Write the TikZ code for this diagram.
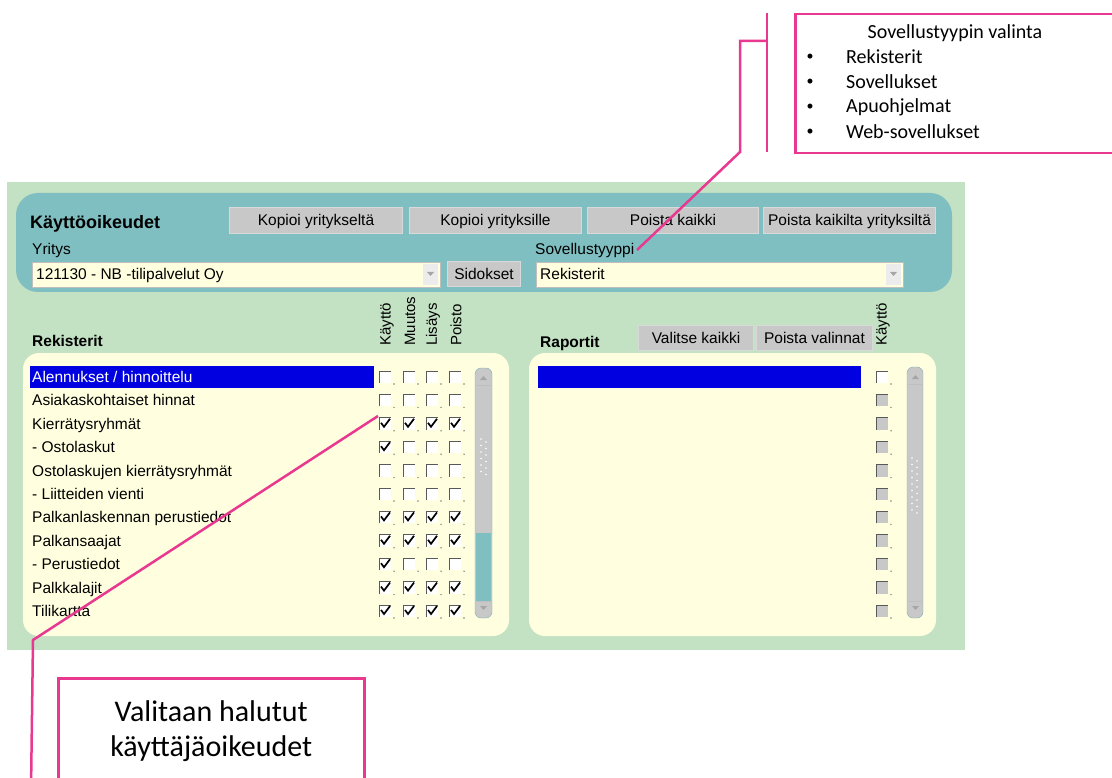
\documentclass[tikz,border=0pt]{standalone}
\usepackage{fontspec}
\setmainfont{Liberation Sans}
\newfontfamily\callfont{Carlito}
\usepackage{tikz}
\usetikzlibrary{positioning}

\definecolor{bggreen}{RGB}{195,225,195}
\definecolor{hdrteal}{RGB}{127,191,193}
\definecolor{listyellow}{RGB}{255,255,224}
\definecolor{selblue}{RGB}{0,0,225}
\definecolor{btngray}{RGB}{200,200,200}
\definecolor{callpink}{RGB}{232,56,143}

% checkbox: x, y, checked (1/0), fill colour
\newcommand{\chkbox}[4]{%
  \fill[#4] (#1-6,#2-6) rectangle (#1+6,#2+6);
  \draw[gray!70!black, line width=1pt] (#1-6,#2+6) -- (#1-6,#2-6) -- (#1+6,#2-6);
  \ifnum#3=1 \draw[black, line width=1.7pt] (#1-4,#2-1) -- (#1-1,#2+3) -- (#1+5,#2-5);\fi
  \fill[gray] (#1+9,#2+7) circle (0.8);
}

\begin{document}
\begin{tikzpicture}[x=1pt, y=-1pt,
guitext/.style={font=\fontsize{15.5}{18}\selectfont, inner sep=0pt, anchor=west, text height=11pt, text depth=0pt},
guibold/.style={font=\fontsize{15.5}{18}\selectfont\bfseries, inner sep=0pt, anchor=west, text height=11pt, text depth=0pt},
button/.style={draw=white!70!gray, fill=btngray, line width=1pt, minimum height=26pt, inner sep=0pt,
  text height=11pt, text depth=0pt, font=\fontsize{15.5}{18}\selectfont},
colhead/.style={rotate=90, anchor=west, inner sep=0pt, font=\fontsize{15}{17}\selectfont},
calltext/.style={font=\callfont\fontsize{20}{24}\selectfont, inner sep=0pt},
callbox/.style={draw=callpink, line width=2.5pt, fill=white},
callline/.style={draw=callpink, line width=2.5pt}
]
    \clip (0,0) rectangle (1112,778);
    \fill[white] (0,0) rectangle (1112,778);

    %Panels
    \fill[bggreen] (7,182) rectangle (965,650);
    \fill[hdrteal, rounded corners=22pt] (16,193) rectangle (952,292);
    \fill[listyellow, rounded corners=16pt] (23,353) rectangle (509,636);
    \fill[listyellow, rounded corners=16pt] (529,353) rectangle (936,636);

    %Header
    \node[guibold, font=\fontsize{18}{20}\selectfont\bfseries, text height=13pt]
        (title)     at (30,222)     {Käyttöoikeudet};
    \node[button, minimum width=173pt, anchor=north west]
        (copyFrom)  at (229,207)    {Kopioi yritykseltä};
    \node[button, minimum width=172pt]
        (copyTo)    [right=6pt of copyFrom] {Kopioi yrityksille};
    \node[button, minimum width=171pt]
        (delAll)    [right=5pt of copyTo]   {Poista kaikki};
    \node[button, minimum width=172pt]
        (delComp)   [right=4pt of delAll]   {Poista kaikilta yrityksiltä};

    \node[guitext]  (compLbl)   at (32,249)     {Yritys};
    \node[guitext]  (appLbl)    at (535,249)    {Sovellustyyppi};

    \draw[gray!50, fill=listyellow] (32,262) rectangle (440,287);
    \fill[gray!15] (423,264) rectangle (438,285);
    \fill[gray!70] (427,272) -- (434,272) -- (430.5,276) -- cycle;
    \node[guitext]  (compVal)   at (36,274.5)   {121130 - NB -tilipalvelut Oy};
    \node[button, minimum width=73pt, minimum height=25pt, anchor=north west]
        (links)     at (447,261)    {Sidokset};

    \draw[gray!50, fill=listyellow] (536,262) rectangle (903,287);
    \fill[gray!15] (886,264) rectangle (901,285);
    \fill[gray!70] (890,272) -- (897,272) -- (893.5,276) -- cycle;
    \node[guitext]  (appVal)    at (540,274.5)  {Rekisterit};

    %Column titles
    \node[guibold]  (regLbl)    at (32,341)     {Rekisterit};
    \foreach \x/\txt [count=\k] in {387/Käyttö, 410/Muutos, 433/Lisäys, 456/Poisto}
        \node[colhead] (col\k) at (\x,346) {\txt};
    \node[guibold]  (repLbl)    at (540,342)    {Raportit};
    \node[button, minimum width=115pt, minimum height=25pt, anchor=north west]
        (selAll)    at (638,325)    {Valitse kaikki};
    \node[button, minimum width=116pt, minimum height=25pt]
        (clrSel)    [right=2pt of selAll]   {Poista valinnat};
    \node[colhead]  (repCol)    at (883,346)    {Käyttö};

    %Lists
    \fill[selblue] (30,366) rectangle (374,388);
    \fill[selblue] (538,366) rectangle (861,388);
    \foreach \i/\txt/\a/\b/\c/\d/\tc/\rf in {
        1/{Alennukset / hinnoittelu}/0/0/0/0/white/white,
        2/Asiakaskohtaiset hinnat/0/0/0/0/black/btngray,
        3/Kierrätysryhmät/1/1/1/1/black/btngray,
        4/- Ostolaskut/1/0/0/0/black/btngray,
        5/Ostolaskujen kierrätysryhmät/0/0/0/0/black/btngray,
        6/- Liitteiden vienti/0/0/0/0/black/btngray,
        7/Palkanlaskennan perustiedot/1/1/1/1/black/btngray,
        8/Palkansaajat/1/1/1/1/black/btngray,
        9/- Perustiedot/1/0/0/0/black/btngray,
        10/Palkkalajit/1/1/1/1/black/btngray,
        11/Tilikartta/1/1/1/1/black/btngray}
    {
        \pgfmathsetmacro\yy{377+23.4*(\i-1)}
        \node[guitext, text=\tc] (row\i) at (32,\yy) {\txt};
        \chkbox{385}{\yy}{\a}{white}
        \chkbox{409}{\yy}{\b}{white}
        \chkbox{432}{\yy}{\c}{white}
        \chkbox{455}{\yy}{\d}{white}
        \chkbox{882}{\yy}{0}{\rf}
    }

    %Scrollbars
    \draw[hdrteal!80!gray, fill=btngray, rounded corners=6pt] (475,368) rectangle (492,618);
    \fill[hdrteal] (476,533) rectangle (491,601);
    \draw[gray!50] (476,385) -- (491,385) (476,601) -- (491,601);
    \fill[gray!70] (480,380) -- (487,380) -- (483.5,376) -- cycle;
    \fill[gray!70] (480,606) -- (487,606) -- (483.5,610) -- cycle;
    \foreach \k in {0,...,5} {
        \fill[white] (481,439+6.5*\k) circle (0.9);
        \fill[white] (486,442+6.5*\k) circle (0.9);
    }
    \draw[hdrteal!80!gray, fill=btngray, rounded corners=6pt] (907,367) rectangle (923,618);
    \draw[gray!50] (908,384) -- (922,384) (908,601) -- (922,601);
    \fill[gray!70] (912,379) -- (919,379) -- (915.5,375) -- cycle;
    \fill[gray!70] (912,606) -- (919,606) -- (915.5,610) -- cycle;
    \foreach \k in {0,...,8} {
        \fill[white] (912,458+6.5*\k) circle (0.9);
        \fill[white] (917,461+6.5*\k) circle (0.9);
    }

    %Callouts
    \node[callbox, anchor=north west, minimum width=340pt, minimum height=139pt]
        (appBox)    at (794,13)     {};
    \node[calltext] (appTitle)  at (955,33)     {Sovellustyypin valinta};
    \foreach \txt [count=\k] in {Rekisterit, Sovellukset, Apuohjelmat, Web-sovellukset} {
        \node[calltext, font=\callfont\fontsize{14}{16}\selectfont] (bul\k) at (810,32+25*\k) {\textbullet};
        \node[calltext, anchor=west] (item\k) at (846,32+25*\k) {\txt};
    }
    \node[callbox, anchor=north west, minimum width=306pt, minimum height=106pt,
          align=center, font=\callfont\fontsize{30}{35}\selectfont]
        (rightsBox) at (57,677)     {Valitaan halutut\\käyttäjäoikeudet};

    %Lines
    \coordinate (brkTop)   at (767,13);
    \coordinate (brkBot)   at (767,152);
    \coordinate (brkMid)   at (767,41);
    \coordinate (brkElbow) at (740,41);
    \coordinate (brkFoot)  at (740,152);
    \coordinate (appTip)   at (637,250);
    \draw[callline] (brkTop) -- (brkBot);
    \draw[callline] (brkMid) -- (brkElbow) -- (brkFoot) -- (appTip);

    \coordinate (kierTip)  at (378,416);
    \coordinate (kneeL)    at (33,640);
    \coordinate (footL)    at (31,790);
    \draw[callline] (kierTip) -- (kneeL) -- (footL);
\end{tikzpicture}
\end{document}
